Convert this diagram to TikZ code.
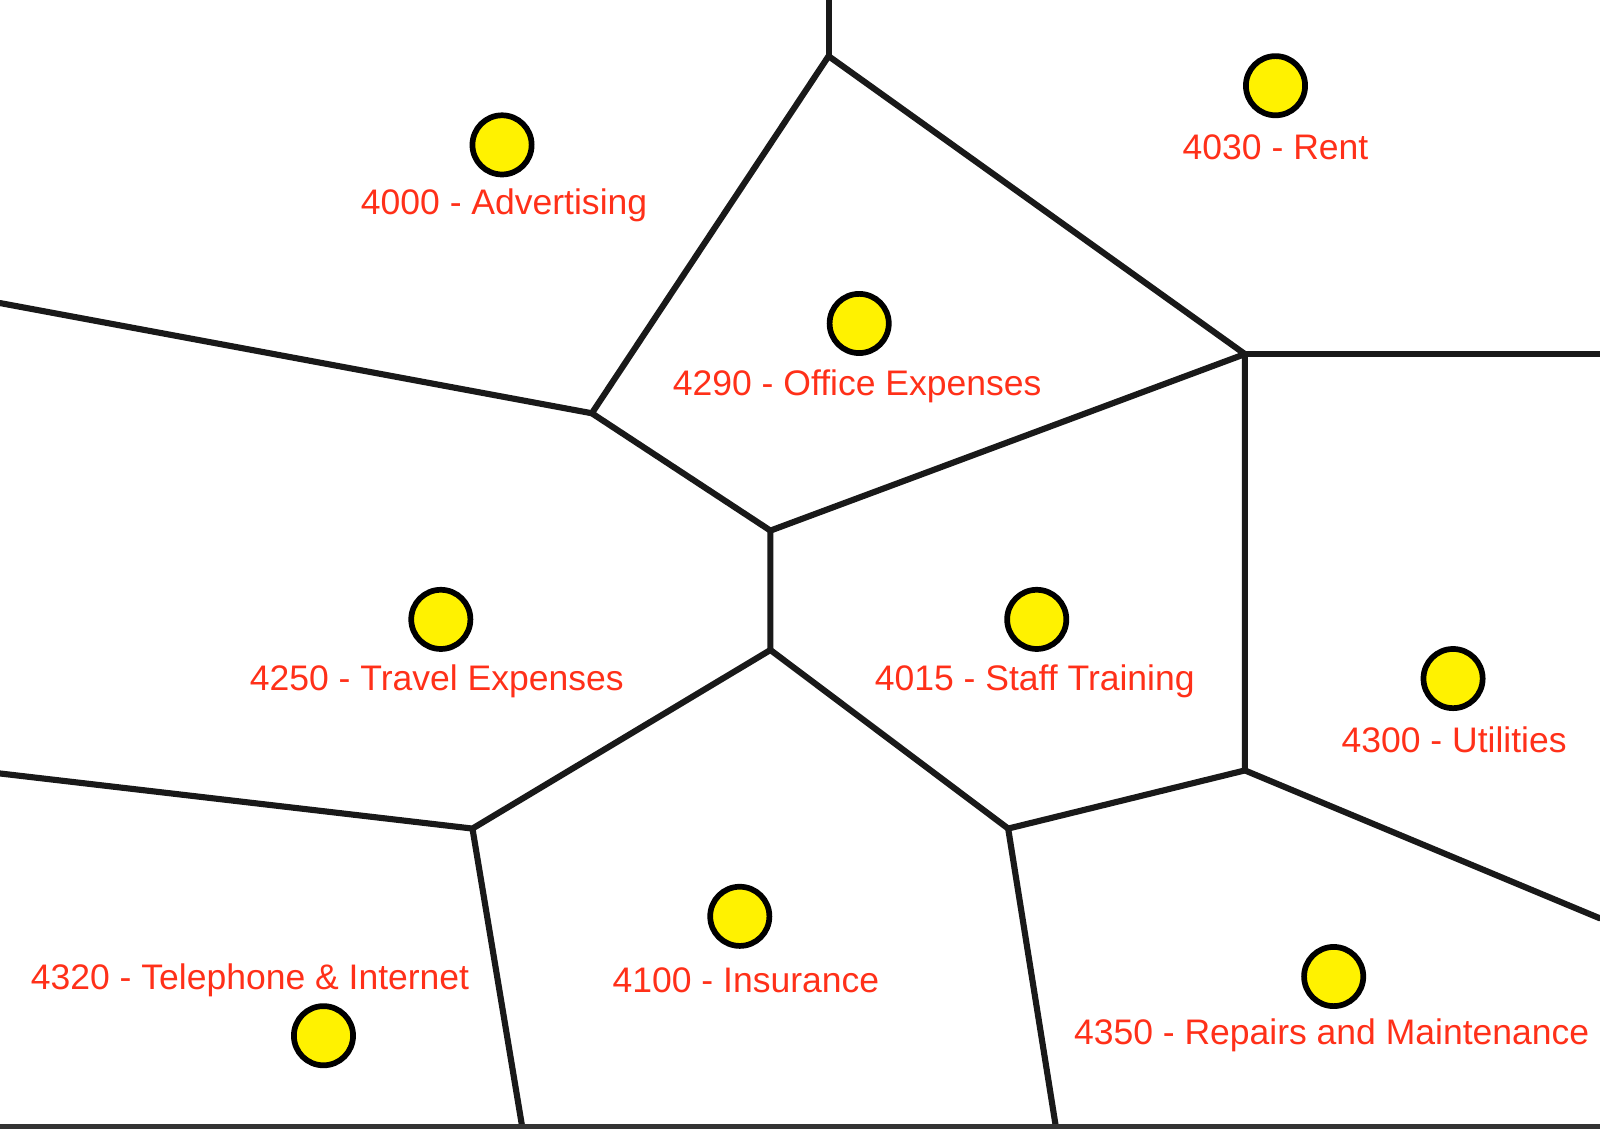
\documentclass[tikz,border=0pt]{standalone}
\usepackage{fontspec}
\setmainfont{Liberation Sans}
\begin{document}
\begin{tikzpicture}[x=0.5pt,y=-0.5pt,
  edge/.style={line width=3pt,line cap=round,line join=round,black!90},
  dot/.style={circle,draw=black,line width=2.8pt,fill=yellow,minimum size=29pt,inner sep=0pt},
  lab/.style={text=red!80!orange!90,font=\fontsize{17.4}{19}\selectfont,inner sep=0pt}]
\useasboundingbox (0,0) rectangle (1568,1106);
\coordinate (T) at (812,0);
\coordinate (B) at (812,55);
\coordinate (C) at (580,405);
\coordinate (D) at (1220,347);
\coordinate (E) at (755,520);
\coordinate (F) at (755,637);
\coordinate (G) at (1220,755);
\coordinate (H) at (463,812);
\coordinate (I) at (988,812);
\coordinate (R1) at (1568,347);
\coordinate (L1) at (0,297);
\coordinate (R2) at (1568,900);
\coordinate (L2) at (0,758);
\coordinate (B1) at (512,1106);
\coordinate (B2) at (1035,1106);
\draw[edge] (T)--(B);
\draw[edge] (B)--(C)--(E)--(D)--cycle;
\draw[edge] (D)--(R1);
\draw[edge] (C)--(L1);
\draw[edge] (E)--(F)--(I)--(G)--(D);
\draw[edge] (F)--(H)--(L2);
\draw[edge] (H)--(B1);
\draw[edge] (I)--(B2);
\draw[edge] (G)--(R2);
\draw[line width=2pt,black!80] (0,1104)--(1568,1104);
\node[dot] (d1) at (492,142) {}; \node[lab] (l1) at (494,201) {4000 - Advertising};
\node[dot] (d2) at (1250,84) {}; \node[lab] (l2) at (1250,144) {4030 - Rent};
\node[dot] (d3) at (842,317) {}; \node[lab] (l3) at (840,379) {4290 - Office Expenses};
\node[dot] (d4) at (432,607) {}; \node[lab] (l4) at (428,668) {4250 - Travel Expenses};
\node[dot] (d5) at (1016,607) {}; \node[lab] (l5) at (1014,668) {4015 - Staff Training};
\node[dot] (d6) at (1424,665) {}; \node[lab] (l6) at (1425,725) {4300 - Utilities};
\node[dot] (d7) at (317,1015) {}; \node[lab] (l7) at (245,961) {4320 - Telephone \& Internet};
\node[dot] (d8) at (725,898) {}; \node[lab] (l8) at (731,961) {4100 - Insurance};
\node[dot] (d9) at (1307,957) {}; \node[lab] (l9) at (1305,1015) {4350 - Repairs and Maintenance};
\end{tikzpicture}
\end{document}
